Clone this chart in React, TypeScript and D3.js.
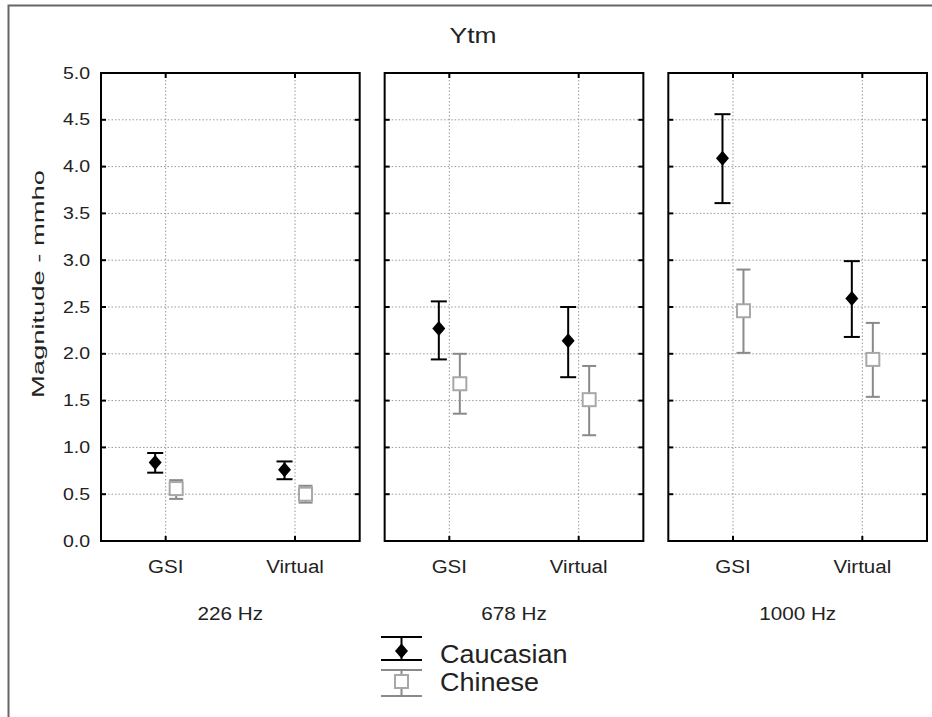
import React from "react"
import * as d3 from "d3"

// chart values
const frequencies = ["226 Hz", "678 Hz", "1000 Hz"]
const devices = ["GSI", "Virtual"]
const groups = ["Caucasian", "Chinese"]
const yTicks = [0, 0.5, 1, 1.5, 2, 2.5, 3, 3.5, 4, 4.5, 5]

// one entry per frequency: [GSI, Virtual]
const caucasianMean = [[0.84, 0.76], [2.27, 2.14], [4.09, 2.59]]
const caucasianLow = [[0.73, 0.66], [1.94, 1.75], [3.61, 2.18]]
const caucasianHigh = [[0.94, 0.85], [2.56, 2.5], [4.56, 2.99]]
const chineseMean = [[0.56, 0.5], [1.68, 1.51], [2.46, 1.94]]
const chineseLow = [[0.45, 0.41], [1.36, 1.13], [2.01, 1.54]]
const chineseHigh = [[0.65, 0.59], [2.0, 1.87], [2.9, 2.33]]

const W = 932
const H = 717
const FONT = "'Liberation Sans', Arial, sans-serif"
const TEXT = "#222"
const GREY = "#8a8a8a"

// the original text is a bit wider than Arial, so stretch it a little
function Label({ x, y, size, sx = 1.15, anchor = "middle", children }: any) {
  return (
    <text transform={`translate(${x},${y}) scale(${sx},1)`} textAnchor={anchor} fontSize={size} fill={TEXT}>
      {children}
    </text>
  )
}

// diamond a little wider than d3's symbolDiamond
function diamondPath(w: number, h: number) {
  const p = d3.path()
  p.moveTo(0, -h / 2)
  p.lineTo(w / 2, 0)
  p.lineTo(0, h / 2)
  p.lineTo(-w / 2, 0)
  p.closePath()
  return p.toString()
}

export default function App() {
  const panel = d3.scaleBand().domain(frequencies).range([101, 927]).paddingInner(0.088)
  const y = d3.scaleLinear().domain([0, 5]).range([541, 73])
  const x = d3.scalePoint().domain(devices).range([0, panel.bandwidth()]).padding(0.5)
  const offset = d3.scalePoint().domain(groups).range([-10.5, 10.5])
  const bw = panel.bandwidth()

  const series = [
    { name: "Caucasian", mean: caucasianMean, low: caucasianLow, high: caucasianHigh, color: "#000", cap: 8 },
    { name: "Chinese", mean: chineseMean, low: chineseLow, high: chineseHigh, color: GREY, cap: 7 },
  ]

  const diamond = diamondPath(13, 15)

  return (
    <svg width={W} height={H} style={{ position: "absolute", left: 0, top: 0, background: "#fff" }}
      fontFamily={FONT}>
      <rect x={8.5} y={5.5} width={W} height={H} fill="#fff" stroke="#666" strokeWidth={2} />
      <Label x={473} y={43} size={22} sx={1.2}>Ytm</Label>
      <text transform={`translate(44,284) rotate(-90)`} textAnchor="middle" fontSize={16} fill={TEXT}
        textLength={228} lengthAdjust="spacingAndGlyphs">Magnitude - mmho</text>

      {yTicks.map(t => (
        <Label key={t} x={90} y={y(t) + 5.5} size={16} sx={1.22} anchor="end">{t.toFixed(1)}</Label>
      ))}

      {frequencies.map((f, fi) => {
        const x0 = panel(f)!
        return (
          <g key={f} transform={`translate(${x0},0)`}>
            {yTicks.slice(1, -1).map(t => (
              <line key={t} x1={0} x2={bw} y1={y(t)} y2={y(t)} stroke="#999" strokeWidth={1}
                strokeDasharray="1.5,2" />
            ))}
            {devices.map(d => (
              <line key={d} x1={x(d)} x2={x(d)} y1={y(5)} y2={y(0)} stroke="#999" strokeWidth={1}
                strokeDasharray="1.5,2" />
            ))}
            {yTicks.map(t => (
              <g key={t}>
                <line x1={0} x2={5} y1={y(t)} y2={y(t)} stroke="#000" strokeWidth={2} />
                <line x1={bw - 5} x2={bw} y1={y(t)} y2={y(t)} stroke="#000" strokeWidth={2} />
              </g>
            ))}
            {devices.map(d => (
              <g key={d}>
                <line x1={x(d)} x2={x(d)} y1={y(5)} y2={y(5) + 5} stroke="#000" strokeWidth={2} />
                <line x1={x(d)} x2={x(d)} y1={y(0)} y2={y(0) - 5} stroke="#000" strokeWidth={2} />
                <Label x={x(d)} y={573} size={19} sx={1.08}>{d}</Label>
              </g>
            ))}
            <rect x={0} y={y(5)} width={bw} height={y(0) - y(5)} fill="none" stroke="#000" strokeWidth={2} />
            <Label x={bw / 2} y={620} size={18} sx={1.15}>{f}</Label>

            {series.map(s => devices.map((d, di) => {
              const cx = x(d)! + offset(s.name)!
              const m = s.mean[fi][di]
              const lo = s.low[fi][di]
              const hi = s.high[fi][di]
              return (
                <g key={s.name + d} stroke={s.color} strokeWidth={2}>
                  <line x1={cx} x2={cx} y1={y(hi)} y2={y(lo)} />
                  <line x1={cx - s.cap} x2={cx + s.cap} y1={y(hi)} y2={y(hi)} />
                  <line x1={cx - s.cap} x2={cx + s.cap} y1={y(lo)} y2={y(lo)} />
                  {s.name === "Caucasian"
                    ? <path d={diamond} transform={`translate(${cx},${y(m)})`} fill="#000" stroke="none" />
                    : <rect x={cx - 6.5} y={y(m) - 6.5} width={13} height={13} fill="#fff" stroke="#a8a8a8" />}
                </g>
              )
            }))}
          </g>
        )
      })}

      {/* legend */}
      <g>
        <g stroke="#000" strokeWidth={2}>
          <line x1={381} x2={422} y1={637} y2={637} />
          <line x1={401.5} x2={401.5} y1={637} y2={660} />
          <line x1={381} x2={422} y1={660} y2={660} />
          <path d={diamond} transform="translate(401.5,651)" fill="#000" stroke="none" />
        </g>
        <g stroke={GREY} strokeWidth={2}>
          <line x1={381} x2={422} y1={670} y2={670} />
          <line x1={401.5} x2={401.5} y1={670} y2={696} />
          <line x1={381} x2={422} y1={696} y2={696} />
          <rect x={395} y={675} width={13} height={13} fill="#fff" stroke="#a8a8a8" />
        </g>
        <Label x={440} y={663} size={25} sx={1.08} anchor="start">{groups[0]}</Label>
        <Label x={440} y={691} size={25} sx={1.08} anchor="start">{groups[1]}</Label>
      </g>
    </svg>
  )
}
